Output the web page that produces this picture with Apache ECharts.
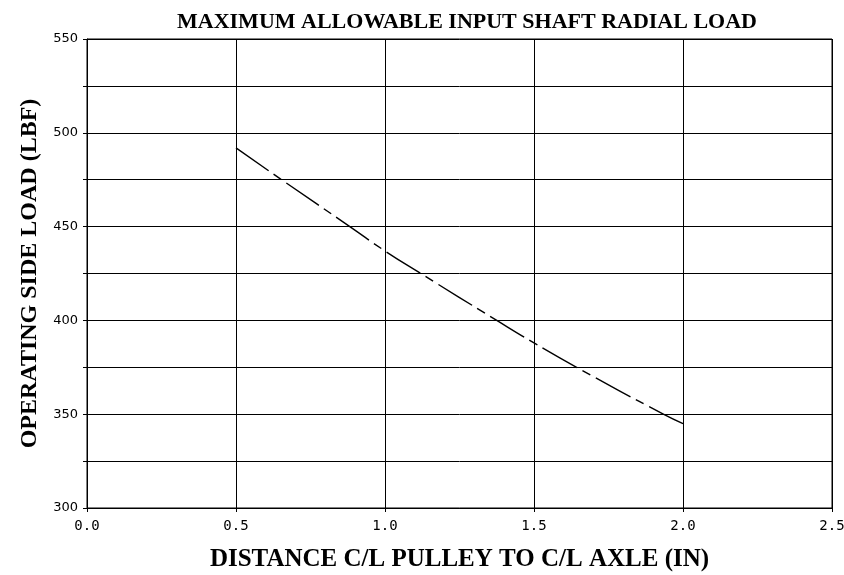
<!DOCTYPE html>
<html>
<head>
<meta charset="utf-8">
<script src="https://cdn.jsdelivr.net/npm/echarts@6/dist/echarts.min.js"></script>
<style>
  html, body { margin: 0; padding: 0; background: #fff; }
  #main { width: 844px; height: 575px; }
</style>
</head>
<body>
<div id="main"></div>
<script>
// distance (in) vs side load (lbf)
const distance = [0.5, 0.653, 0.882, 1.0, 1.12, 1.375, 1.5, 1.643, 1.934, 2.0]
const sideLoad = [492, 475, 450, 437, 425, 400, 388, 375, 350, 345]

const serif = '"Liberation Serif", serif'

let myChart = echarts.init(document.getElementById('main'))

let option = {
  animation: false,
  title: {
    text: 'MAXIMUM ALLOWABLE INPUT SHAFT RADIAL LOAD',
    left: 462,
    top: 6,
    textAlign: 'center',
    textStyle: {
      fontFamily: serif,
      fontWeight: 'bold',
      fontSize: 22,
      color: '#000'
    }
  },
  grid: {
    left: 87,
    right: 12,
    top: 39,
    bottom: 67,
    outerBoundsMode: 'none',
    show: true,
    borderColor: '#000',
    borderWidth: 1
  },
  xAxis: {
    type: 'value',
    min: 0,
    max: 2.5,
    interval: 0.5,
    name: 'DISTANCE C/L PULLEY TO C/L AXLE (IN)',
    nameLocation: 'middle',
    nameGap: 39,
    nameTextStyle: {
      fontFamily: serif,
      fontWeight: 'bold',
      fontSize: 25,
      color: '#000'
    },
    axisLine: { lineStyle: { color: '#000', width: 1 } },
    axisTick: { length: 4, lineStyle: { color: '#000' } },
    axisLabel: {
      fontFamily: '"DejaVu Sans Mono", monospace',
      fontSize: 14,
      color: '#000',
      margin: 11,
      formatter: v => v.toFixed(1)
    },
    splitLine: { show: true, lineStyle: { color: '#000', width: 1 } }
  },
  yAxis: {
    type: 'value',
    min: 300,
    max: 550,
    interval: 25,
    name: 'OPERATING SIDE LOAD (LBF)',
    nameLocation: 'middle',
    nameGap: 41,
    nameTextStyle: {
      fontFamily: serif,
      fontWeight: 'bold',
      fontSize: 24,
      color: '#000'
    },
    axisLine: { show: true, lineStyle: { color: '#000', width: 1 } },
    axisTick: { show: true, length: 4, lineStyle: { color: '#000' } },
    axisLabel: {
      fontFamily: '"DejaVu Sans", sans-serif',
      fontSize: 13,
      color: '#000',
      margin: 9,
      formatter: v => (v % 50 === 0 ? String(v) : '')
    },
    splitLine: { show: true, lineStyle: { color: '#000', width: 1 } }
  },
  series: [
    {
      type: 'line',
      data: distance.map((d, i) => [d, sideLoad[i]]),
      smooth: true,
      showSymbol: false,
      lineStyle: {
        color: '#000',
        width: 1.4,
        type: [40, 6, 9, 6]
      }
    }
  ]
}

myChart.setOption(option)
</script>
</body>
</html>
